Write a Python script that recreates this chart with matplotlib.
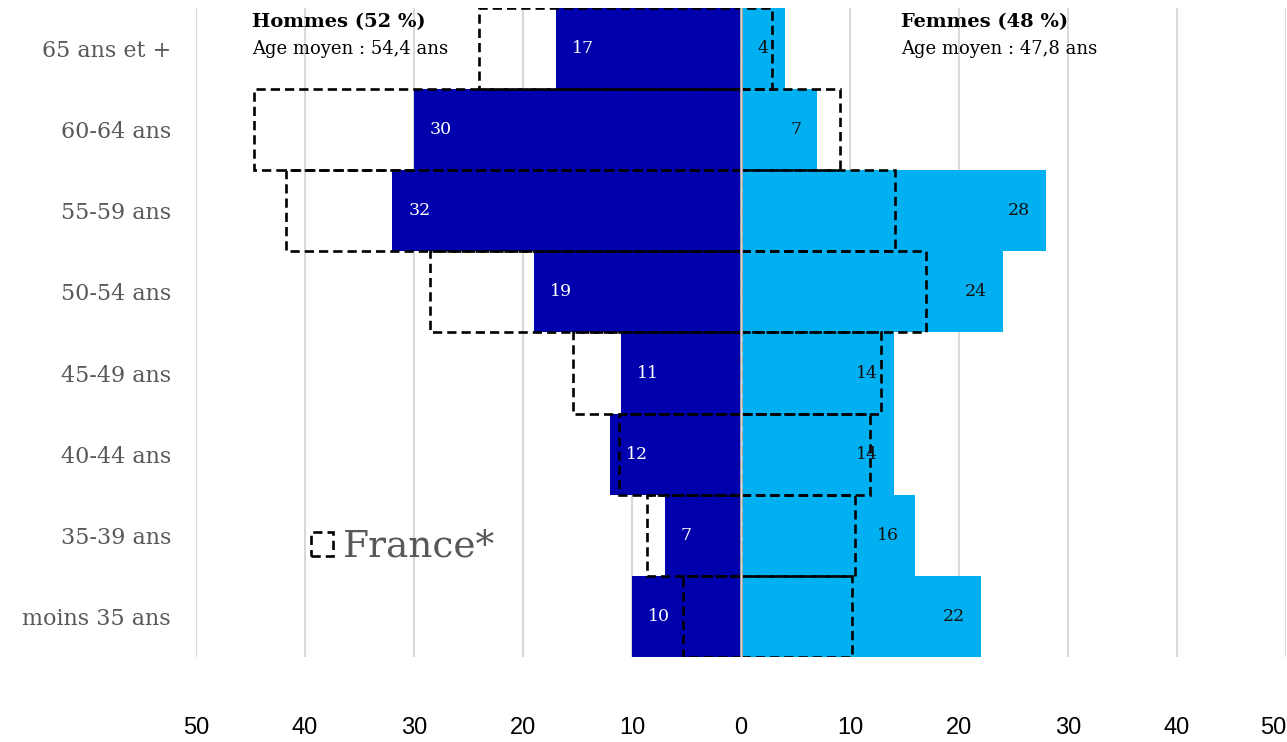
import matplotlib
matplotlib.use("Agg")
import matplotlib.pyplot as plt
import numpy as np

categories = ["moins 35 ans", "35-39 ans", "40-44 ans", "45-49 ans",
              "50-54 ans", "55-59 ans", "60-64 ans", "65 ans et +"]
hommes = [10, 7, 12, 11, 19, 32, 30, 17]
femmes = [22, 16, 14, 14, 24, 28, 7, 4]
france_hommes = [5.3, 8.6, 11.2, 15.4, 28.5, 41.7, 44.7, 24.0]
france_femmes = [10.2, 10.5, 11.8, 12.8, 17.0, 14.1, 9.1, 2.8]
xticks = [-50, -40, -30, -20, -10, 0, 10, 20, 30, 40, 50]
xticklabels = ["50", "40", "30", "20", "10", "0", "10", "20", "30", "40", "50"]

C_H = "#0000AC"
C_F = "#00B0F0"
GREY = "#595959"
SERIF = "DejaVu Serif"

fig = plt.figure(figsize=(12.87, 7.42), dpi=100)
ax = fig.add_axes([196/1287, 1-657/742, 1090/1287, 649/742])

y = np.arange(len(categories))
ax.barh(y, -np.array(hommes), height=1.0, color=C_H, zorder=2)
ax.barh(y, femmes, height=1.0, color=C_F, zorder=2)

dash = (0, (3.5, 1.9))
fr_h = ax.barh(y, -np.array(france_hommes), height=1.0, fill=False,
               edgecolor="black", linestyle=dash, linewidth=1.9, zorder=4,
               label="France*")
ax.barh(y, france_femmes, height=1.0, fill=False,
        edgecolor="black", linestyle=dash, linewidth=1.9, zorder=4)
ax.axvline(0, color="#d6d6d6", lw=1.8, zorder=4.5)

for yi, v in zip(y, hommes):
    ax.annotate(str(v), (-v, yi), xytext=(11.5, 0), textcoords="offset points",
                ha="left", va="center", color="white", fontsize=12.5,
                family=SERIF, zorder=5)
for yi, v in zip(y, femmes):
    ax.annotate(str(v), (v, yi), xytext=(-11.5, 0), textcoords="offset points",
                ha="right", va="center", color="#111111", fontsize=12.5,
                family=SERIF, zorder=5)

ax.set_xlim(-50, 50)
ax.set_ylim(-0.5, len(categories) - 0.5)
ax.set_xticks(xticks)
ax.set_xticklabels(xticklabels, family="Liberation Sans", fontsize=17, color="black")
ax.tick_params(axis="x", length=0, pad=43)
labs = ax.get_xticklabels()
labs[-1].set_horizontalalignment("right")
ax.set_yticks(y)
ax.set_yticklabels(categories, family=SERIF, fontsize=16, color=GREY)
ax.tick_params(axis="y", length=0, pad=18)
ax.grid(axis="x", color="#d9d9d9", lw=1.5, zorder=0)
ax.set_axisbelow(True)
for s in ax.spines.values():
    s.set_visible(False)

ax.text(0.0514, 0.978, "Hommes (52 %)", transform=ax.transAxes, ha="left",
        va="center", fontsize=14, fontweight="bold", family=SERIF, color="black")
ax.text(0.0514, 0.937, "Age moyen : 54,4 ans", transform=ax.transAxes, ha="left",
        va="center", fontsize=13, family=SERIF, color="black")
ax.text(0.6468, 0.978, "Femmes (48 %)", transform=ax.transAxes, ha="left",
        va="center", fontsize=14, fontweight="bold", family=SERIF, color="black")
ax.text(0.6468, 0.937, "Age moyen : 47,8 ans", transform=ax.transAxes, ha="left",
        va="center", fontsize=13, family=SERIF, color="black")

leg = ax.legend(handles=[fr_h], loc="center left", bbox_to_anchor=(0.1055, 0.1695),
                frameon=False, borderpad=0, borderaxespad=0, handlelength=0.6,
                handleheight=0.6, handletextpad=0.25,
                prop={"family": SERIF, "size": 27})
for t in leg.get_texts():
    t.set_color(GREY)

fig.savefig("out.png", dpi=100)
